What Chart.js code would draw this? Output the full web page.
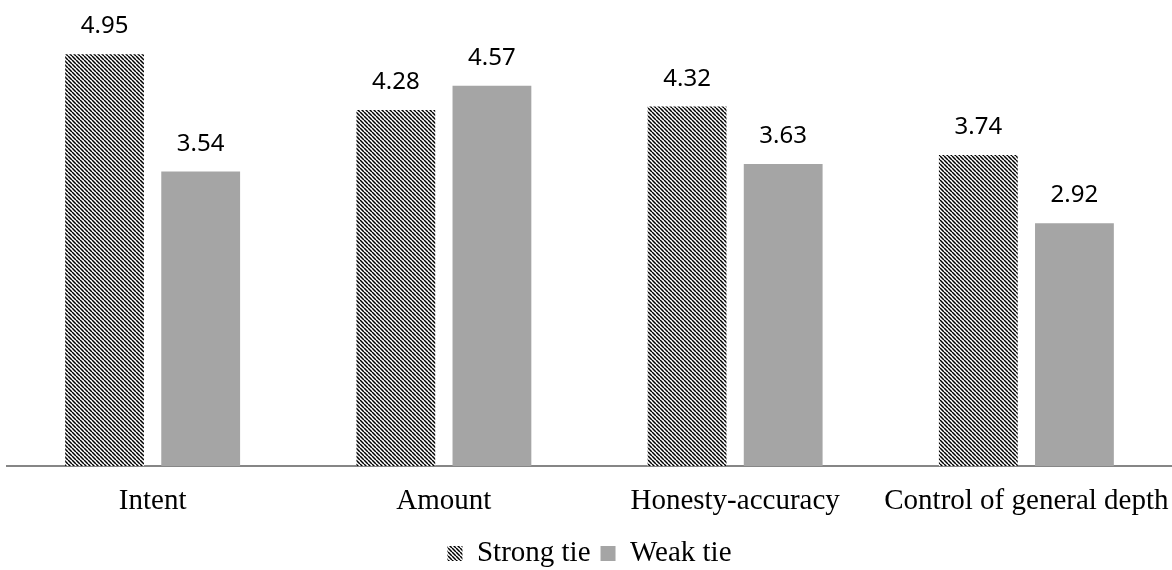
<!DOCTYPE html>
<html>
<head>
<meta charset="utf-8">
<script src="https://cdn.jsdelivr.net/npm/chart.js@4/dist/chart.umd.min.js"></script>
<style>
    html, body { margin: 0; padding: 0; background: #fff; }
    #wrap { width: 1172px; height: 570px; }
</style>
</head>
<body>
<div id="wrap"><canvas id="tieChart"></canvas></div>
<script>
const categories = ['Intent', 'Amount', 'Honesty-accuracy', 'Control of general depth'];
const strongTie = [4.95, 4.28, 4.32, 3.74];
const weakTie = [3.54, 4.57, 3.63, 2.92];

// diagonal hatch like the office "wide downward diagonal" fill
function makeHatch() {
    const tile = document.createElement('canvas');
    tile.width = 4;
    tile.height = 4;
    const c = tile.getContext('2d');
    c.fillStyle = '#fff';
    c.fillRect(0, 0, 4, 4);
    c.strokeStyle = '#000';
    c.lineWidth = 1.5;
    [[-4, 0, 0, 4], [0, 0, 4, 4], [0, -4, 4, 0]].forEach(l => {
        c.beginPath();
        c.moveTo(l[0], l[1]);
        c.lineTo(l[2], l[3]);
        c.stroke();
    });
    return c.createPattern(tile, 'repeat');
}

const hatch = makeHatch();
const serif = '"Liberation Serif", "Times New Roman", serif';

// value labels above each bar
const barLabels = {
    id: 'barLabels',
    afterDatasetsDraw(chart) {
        const ctx = chart.ctx;
        ctx.save();
        ctx.font = '24px "Noto Sans", "Open Sans", sans-serif';
        ctx.fillStyle = '#000';
        ctx.textAlign = 'center';
        ctx.textBaseline = 'alphabetic';
        chart.data.datasets.forEach((ds, i) => {
            chart.getDatasetMeta(i).data.forEach((bar, j) => {
                ctx.fillText(ds.data[j].toFixed(2), bar.x, bar.y - 21);
            });
        });
        ctx.restore();
    }
};

new Chart(document.getElementById('tieChart'), {
    type: 'bar',
    data: {
        labels: categories,
        datasets: [
            { label: 'Strong tie', data: strongTie, backgroundColor: hatch },
            { label: 'Weak tie', data: weakTie, backgroundColor: '#a5a5a5' }
        ]
    },
    options: {
        responsive: true,
        maintainAspectRatio: false,
        animation: false,
        categoryPercentage: 0.66,
        barPercentage: 0.82,
        layout: { padding: { top: 50, left: 7, right: 0, bottom: -8 } },
        plugins: {
            legend: {
                position: 'bottom',
                labels: {
                    boxWidth: 15,
                    boxHeight: 15,
                    padding: 10,
                    color: '#000',
                    font: { family: serif, size: 29 }
                }
            },
            tooltip: { enabled: false }
        },
        scales: {
            x: {
                grid: { display: false },
                border: { color: '#868686', width: 2 },
                ticks: {
                    color: '#000',
                    padding: 10,
                    maxRotation: 0,
                    font: { family: serif, size: 29 }
                },
                // the last long label may run to the edge, like the original
                afterFit(scale) {
                    scale.paddingLeft = 0;
                    scale.paddingRight = 0;
                }
            },
            y: {
                display: false,
                min: 0,
                max: 5
            }
        }
    },
    plugins: [barLabels]
});
</script>
</body>
</html>
